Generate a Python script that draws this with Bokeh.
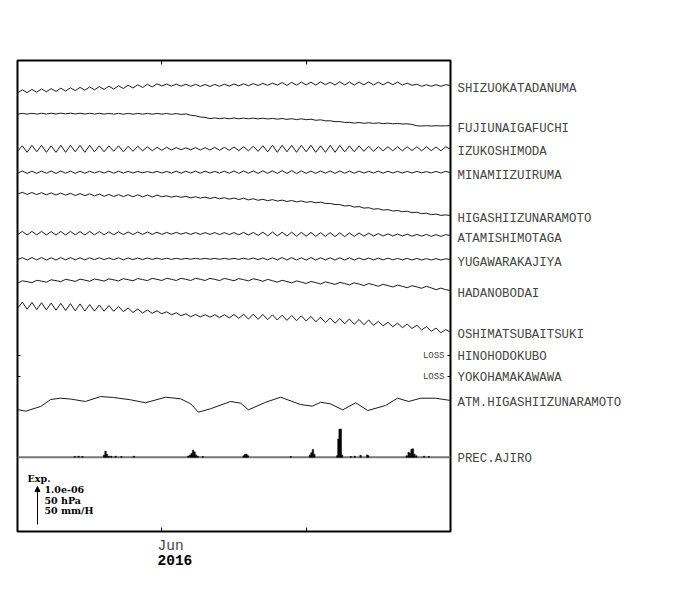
from bokeh.plotting import figure
from bokeh.models import (Range1d, FixedTicker, LinearAxis, Label, Arrow, NormalHead)
from bokeh.embed import file_html
from bokeh.resources import INLINE
from bokeh.core.properties import value

# ---------------- data ----------------
# x: days from the start of the window (tick 30 = 1 Jun 2016, tick 60 = 1 Jul)
DAYS = list(range(91))
TICKS = [30, 60]
TICK_LABEL = "Jun"
YEAR_LABEL = "2016"

# strain deviations, in plot units (38 units = 1.0e-06 strain)
SHIZUOKATADANUMA = [
    -1.5, 1.7, -1.1, 2.1, -0.7, 2.5, -0.3, 2.9, 0.1, 3.3,
    0.5, 3.7, 0.9, 4.1, 1.3, 4.5, 1.7, 4.9, 2.1, 5.3,
    2.5, 5.75, 3.0, 6.25, 3.5, 6.75, 4.0, 7.25, 4.5, 7.75,
    5.5, 7.45, 5.4, 7.35, 5.3, 7.25, 5.2, 7.15, 5.1, 7.05,
    5.0, 7.1, 5.2, 7.3, 5.4, 7.5, 5.6, 7.7, 5.8, 7.9,
    6.0, 8.1, 6.2, 8.3, 6.4, 9.0, 6.1, 9.2, 6.3, 9.4,
    6.6, 9.3, 6.4, 9.6, 6.8, 9.2, 6.5, 9.7, 6.6, 9.4,
    6.4, 9.5, 6.7, 9.6, 6.5, 9.3, 6.6, 9.5, 6.8, 9.4,
    6.5, 8.3, 6.2, 7.3, 5.2, 6.8, 5.2, 6.8, 5.2, 6.8,
    6.0]
FUJIUNAIGAFUCHI = [
    -0.4, 0.43, -0.34, 0.49, -0.28, 0.55, -0.22, 0.61, -0.16, 0.67,
    -0.1, 0.67, -0.16, 0.61, -0.22, 0.55, -0.28, 0.49, -0.34, 0.43,
    -0.4, 0.4, -0.4, 0.4, -0.4, 0.4, -0.4, 0.4, -0.4, 0.4,
    -0.4, 0.34, -0.52, 0.22, -0.64, -0.1, -1.5, -2.0, -3.2, -3.6,
    -4.8, -4.1, -4.9, -4.2, -5.0, -4.2, -5.0, -4.3, -5.0, -4.3,
    -5.1, -4.4, -5.2, -4.6, -5.4, -4.7, -5.6, -4.9, -5.8, -5.0,
    -5.9, -5.4, -6.5, -6.0, -7.0, -7.0, -7.8, -7.8, -8.6, -8.6,
    -9.3, -8.7, -9.5, -8.9, -9.6, -9.1, -9.8, -9.3, -10.0, -9.6,
    -10.2, -10.0, -10.6, -12.0, -12.2, -11.9, -12.2, -11.9, -12.1, -12.0,
    -12.0]
IZUKOSHIMODA = [
    -2.5, 3.0, -3.5, 3.5, -3.0, 3.5, -3.5, 3.0, -3.5, 3.5,
    -3.5, 3.5, -3.0, 3.5, -3.5, 3.5, -3.0, 3.0, -3.0, 3.0,
    -2.5, 3.0, -3.0, 2.5, -2.5, 2.5, -2.0, 2.0, -2.0, 1.5,
    -1.5, 1.5, -1.2, 1.2, -1.0, 1.0, -1.0, 1.2, -1.2, 1.2,
    -1.2, 1.5, -1.5, 1.5, -1.5, 1.8, -1.8, 2.0, -2.0, 2.5,
    -2.5, 3.0, -3.0, 3.5, -3.5, 3.5, -3.0, 3.5, -3.5, 3.5,
    -3.0, 3.5, -3.5, 3.0, -3.5, 3.5, -3.5, 3.5, -3.0, 3.0,
    -3.0, 3.0, -2.5, 2.5, -2.5, 2.0, -2.0, 2.0, -2.0, 2.0,
    -2.0, 2.0, -1.8, 2.0, -2.0, 2.0, -1.8, 1.8, -2.0, 2.0,
    -0.5]
MINAMIIZUIRUMA = [
    -1.0, 1.2, -1.2, 1.0, -1.2, 1.2, -1.0, 1.2, -1.2, 1.2,
    -1.0, 1.2, -1.2, 1.0, -1.0, 1.0, -0.8, 0.8, -0.8, 1.0,
    -1.0, 1.0, -0.8, 0.8, -0.8, 0.8, -0.6, 0.6, -0.6, 0.8,
    -0.8, 0.8, -0.8, 1.0, -1.0, 1.0, -0.8, 1.0, -1.0, 1.0,
    -0.8, 0.8, -0.8, 1.0, -1.0, 1.2, -1.2, 1.2, -1.0, 1.2,
    -1.2, 1.4, -1.2, 1.4, -1.2, 1.6, -1.2, 1.6, -1.4, 1.4,
    -1.2, 1.2, -1.2, 1.2, -1.0, 1.2, -1.2, 1.2, -1.0, 1.0,
    -1.0, 1.0, -0.8, 0.8, -0.8, 1.0, -1.0, 1.0, -0.8, 0.8,
    -0.8, 0.8, -0.8, 0.8, -0.6, 0.6, -0.8, 0.8, -0.8, 0.8,
    -0.4]
HIGASHIIZUNARAMOTO = [
    -1.0, 0.9, -1.2, 0.7, -1.4, 0.5, -1.6, 0.3, -1.8, 0.1,
    -2.0, -0.1, -2.3, -0.4, -2.5, -0.6, -2.8, -0.9, -3.1, -1.2,
    -3.3, -1.4, -3.4, -1.5, -3.6, -1.6, -3.7, -1.8, -3.8, -1.9,
    -3.6, -2.6, -3.9, -2.9, -4.1, -3.2, -4.6, -3.6, -4.9, -3.9,
    -5.3, -4.1, -5.6, -4.5, -6.0, -4.8, -6.3, -5.1, -6.7, -5.5,
    -7.1, -6.1, -7.5, -6.4, -7.9, -6.9, -8.3, -7.3, -8.7, -7.7,
    -9.1, -8.4, -9.6, -9.0, -10.2, -10.3, -11.3, -11.4, -12.8, -12.3,
    -13.9, -13.4, -14.9, -14.5, -16.0, -15.5, -16.9, -16.4, -17.8, -17.3,
    -18.5, -18.0, -19.5, -19.0, -20.5, -20.0, -21.4, -20.9, -22.2, -21.7,
    -22.3]
ATAMISHIMOTAGA = [
    -1.5, 1.8, -1.8, 1.8, -1.6, 1.8, -1.8, 1.6, -1.8, 1.8,
    -1.8, 1.8, -1.6, 1.6, -1.8, 1.8, -1.6, 1.6, -1.6, 1.4,
    -1.6, 1.4, -1.4, 1.2, -1.4, 1.2, -1.2, 1.2, -1.2, 1.0,
    -1.2, 0.8, -1.0, 0.8, -1.0, 0.6, -1.2, 0.6, -1.2, 0.6,
    -1.2, 0.6, -1.4, 0.6, -1.4, 0.6, -1.6, 0.8, -1.8, 0.8,
    -2.2, 1.0, -2.6, 1.2, -2.8, 1.0, -2.8, 1.0, -3.0, 0.8,
    -3.0, 0.8, -3.2, 0.6, -3.2, 0.6, -3.4, 0.4, -3.4, 0.2,
    -3.2, 0.2, -3.0, 0.0, -2.8, -0.4, -2.8, -0.6, -2.8, -0.8,
    -2.8, -1.0, -3.0, -1.2, -3.0, -1.2, -3.2, -1.4, -3.2, -1.4,
    -2.3]
YUGAWARAKAJIYA = [
    -0.8, 1.2, -1.2, 1.2, -1.0, 1.2, -1.2, 1.0, -1.2, 1.2,
    -1.0, 1.2, -1.0, 1.0, -1.0, 1.0, -0.8, 1.0, -0.8, 0.8,
    -0.8, 1.0, -1.0, 0.8, -0.8, 0.8, -0.8, 0.8, -0.6, 0.6,
    -0.6, 0.6, -0.6, 0.5, -0.5, 0.4, -0.4, 0.4, -0.4, 0.4,
    -0.4, 0.4, -0.5, 0.5, -0.5, 0.5, -0.6, 0.6, -0.6, 0.8,
    -0.8, 0.8, -1.0, 1.0, -1.0, 1.2, -1.2, 1.2, -1.2, 1.0,
    -1.2, 1.2, -1.2, 1.0, -1.0, 1.0, -1.2, 1.0, -1.2, 1.0,
    -1.2, 0.8, -1.0, 0.8, -1.0, 0.6, -1.0, 0.6, -1.0, 0.4,
    -1.0, 0.4, -1.2, 0.4, -1.2, 0.2, -1.2, 0.2, -1.2, 0.0,
    -0.7]
HADANOBODAI = [
    -1.0, 1.37, 0.54, -0.49, 1.88, 1.05, 0.02, 2.39, 1.56, 0.53,
    2.9, 1.95, 0.8, 3.05, 2.1, 0.95, 3.2, 2.25, 1.1, 3.35,
    2.4, 1.25, 3.5, 2.55, 1.4, 3.65, 2.7, 1.55, 3.8, 2.85,
    1.7, 3.9, 2.9, 1.7, 3.9, 2.9, 1.7, 3.9, 2.9, 1.7,
    3.9, 2.85, 1.6, 3.75, 2.7, 1.45, 3.6, 2.55, 1.3, 3.45,
    2.4, 0.9, 2.8, 1.5, 0.0, 1.9, 0.7, -0.7, 1.3, 0.1,
    -1.3, 0.75, -0.4, -1.75, 0.3, -0.85, -2.2, -0.15, -1.3, -2.65,
    -0.6, -1.85, -3.3, -1.35, -2.6, -4.05, -2.1, -3.35, -4.8, -2.85,
    -4.1, -5.5, -3.5, -4.7, -6.1, -4.1, -5.7, -7.5, -5.9, -7.5,
    -8.3]
OSHIMATSUBAITSUKI = [
    -3.0, 3.35, -3.8, 3.05, -4.1, 2.75, -4.4, 2.45, -4.7, 2.15,
    -5.0, 1.85, -5.3, 1.55, -5.6, 0.95, -5.6, 0.45, -5.7, -0.05,
    -5.8, -1.0, -6.2, -2.5, -7.0, -3.53, -7.47, -4.5, -7.83, -5.37,
    -8.2, -6.3, -9.2, -7.3, -10.2, -8.3, -11.2, -8.93, -11.45, -9.18,
    -11.7, -9.26, -12.03, -9.19, -12.35, -9.01, -12.88, -8.74, -13.5, -8.67,
    -13.83, -9.0, -14.17, -9.33, -14.5, -9.67, -14.83, -10.0, -15.17, -10.33,
    -15.5, -10.9, -16.3, -11.7, -17.1, -12.5, -17.75, -13.0, -18.25, -13.5,
    -18.75, -14.0, -19.25, -14.5, -19.94, -15.89, -20.33, -16.78, -21.22, -17.67,
    -22.11, -18.56, -23.0, -19.71, -24.43, -21.14, -25.85, -22.56, -27.28, -23.99,
    -26.7]

STRAIN_NAMES = ["SHIZUOKATADANUMA", "FUJIUNAIGAFUCHI", "IZUKOSHIMODA", "MINAMIIZUIRUMA",
                "HIGASHIIZUNARAMOTO", "ATAMISHIMOTAGA", "YUGAWARAKAJIYA", "HADANOBODAI",
                "OSHIMATSUBAITSUKI"]
STRAIN_SERIES = [SHIZUOKATADANUMA, FUJIUNAIGAFUCHI, IZUKOSHIMODA, MINAMIIZUIRUMA,
                 HIGASHIIZUNARAMOTO, ATAMISHIMOTAGA, YUGAWARAKAJIYA, HADANOBODAI,
                 OSHIMATSUBAITSUKI]
LOSS_NAMES = ["HINOHODOKUBO", "YOKOHAMAKAWAWA"]

# atmospheric pressure (hPa)
ATM_NAME = "ATM.HIGASHIIZUNARAMOTO"
ATM_DAY = [0, 1.7, 4.8, 6.9, 8.9, 11, 14.1, 17.3, 20, 23.5,
           26.6, 30.8, 33.9, 36, 37.6, 40.1, 44.3, 46.4, 48, 51.6,
           54.7, 58.8, 61.3, 63, 65, 67.6, 70.3, 72.8, 76.5, 79,
           81.3, 83.8, 86.9, 90]
ATM_HPA = [999.7, 997.5, 1003.7, 1012.9, 1014.6, 1013.5, 1010.3, 1016.8, 1015.5, 1012.5,
           1008.6, 1015.9, 1013.8, 1007.2, 996.2, 1000.7, 1010.3, 1008.0, 999.3, 1009.3,
           1015.9, 1006.3, 1004.1, 1009.3, 1007.2, 999.3, 1008.6, 998.4, 1005.0, 1014.6,
           1010.3, 1014.6, 1014.6, 1011.6]

# precipitation (mm/H)
PREC_NAME = "PREC.AJIRO"
PREC_DAY = [11.9, 12.7, 13.5, 18.0, 18.3, 18.6, 19.0, 19.5, 20.4, 21.6, 24.2,
            35.5, 35.9, 36.2, 36.5, 36.8, 37.1, 37.5, 38.5,
            47.0, 47.3, 47.6, 47.9, 56.8, 60.8, 61.1, 61.4, 61.7,
            66.45, 66.7, 66.95, 67.2, 67.45, 69.3, 70.1, 71.3, 72.7, 72.9,
            80.9, 81.3, 81.6, 81.9, 82.2, 82.5, 82.9, 84.5, 85.5]
PREC_MM = [1, 1.3, 1, 3, 8, 4, 1.3, 1.3, 1.3, 1, 1.3,
           1.5, 3, 5, 9, 7, 3, 1.3, 1,
           2, 4, 4, 2, 1, 3, 6, 10, 4,
           2, 24, 37, 37, 3, 1, 1.3, 2.5, 3, 2,
           2, 6.5, 5, 10.5, 11, 4, 2, 1.3, 1]

SCALE_TEXT = ["1.0e-06", "50 hPa", "50 mm/H"]

# ---------------- layout (plot units, 1 unit ~ 1 px) ----------------
BAR = 38.0                      # length of 1.0e-06 strain / 50 hPa / 50 mm/H
STRAIN_OFFSETS = [440, 417.7, 382.7, 359.3, 338.3, 298.3, 272.7, 249.3, 226]
LOSS_ROWS = [176, 155]
ATM_BASE = 126.0
ATM_REF = 1005.0
PREC_BASE = 74.3
NBSP = "\u00a0"

p = figure(width=648, height=583, x_range=Range1d(0, 90), y_range=Range1d(0, 471),
           output_backend="svg", toolbar_location=None,
           x_axis_type=None, y_axis_type=None,
           min_border_left=17, min_border_right=198, min_border_top=60, min_border_bottom=52)
p.outline_line_color = "black"
p.outline_line_width = 2
p.background_fill_color = "white"
p.border_fill_color = "white"

label_pos, label_txt = [], []
for name, series, off in zip(STRAIN_NAMES, STRAIN_SERIES, STRAIN_OFFSETS):
    ys = [v + off for v in series]
    p.line(DAYS, ys, line_color="#1a1a1a", line_width=1, line_join="round")
    label_pos.append(round(ys[-1] - 3, 1)); label_txt.append(name)

for name, row in zip(LOSS_NAMES, LOSS_ROWS):
    label_pos.append(round(row - 1.5, 1)); label_txt.append(name)
p.text(x=[90] * len(LOSS_ROWS), y=LOSS_ROWS, text=["LOSS"] * len(LOSS_ROWS),
       x_offset=-6, text_align="right", text_baseline="middle",
       text_font=value("Liberation Mono"), text_font_size="9px", text_color="#444")
# short inward ticks at the edges for the LOSS rows (half of each dash is clipped)
p.scatter(x=[0, 0, 90, 90], y=LOSS_ROWS + LOSS_ROWS, marker="dash", size=6,
          line_color="black", line_width=1)

atm_y = [ATM_BASE + (h - ATM_REF) * BAR / 50.0 for h in ATM_HPA]
p.line(ATM_DAY, atm_y, line_color="#1a1a1a", line_width=1, line_join="round")
label_pos.append(round(atm_y[-1] - 2, 1)); label_txt.append(ATM_NAME)

p.line([0, 90], [PREC_BASE, PREC_BASE], line_color="#777777", line_width=2)
p.vbar(x=PREC_DAY, bottom=PREC_BASE, top=[PREC_BASE + m * BAR / 50.0 for m in PREC_MM],
       width=0.3, fill_color="black", line_color="black", line_width=0.5)
label_pos.append(round(PREC_BASE - 2, 1)); label_txt.append(PREC_NAME)

# station names on a right-hand axis
name_axis = LinearAxis(ticker=FixedTicker(ticks=label_pos), axis_line_color=None,
                       major_tick_line_color=None, minor_tick_line_color=None,
                       major_tick_in=0, major_tick_out=0, major_label_standoff=7,
                       major_label_overrides=dict(zip(label_pos, label_txt)),
                       major_label_text_font="Liberation Mono",
                       major_label_text_font_size="12.4px",
                       major_label_text_color="#444444")
p.add_layout(name_axis, "right")

# time axis: ticks top and bottom, month and year below
top_axis = LinearAxis(ticker=FixedTicker(ticks=TICKS), axis_line_color=None,
                      major_tick_in=4, major_tick_out=0, minor_tick_line_color=None,
                      major_label_overrides={t: "" for t in TICKS}, major_label_standoff=0,
                      major_tick_line_color="black")
p.add_layout(top_axis, "above")
month_axis = LinearAxis(ticker=FixedTicker(ticks=TICKS), axis_line_color=None,
                        major_tick_in=4, major_tick_out=0, minor_tick_line_color=None,
                        major_tick_line_color="black", major_label_standoff=6,
                        major_label_overrides={TICKS[0]: NBSP * 2 + TICK_LABEL, TICKS[1]: ""},
                        major_label_text_font="Liberation Mono",
                        major_label_text_font_size="14.5px",
                        major_label_text_color="#444444")
p.add_layout(month_axis, "below")
year_axis = LinearAxis(ticker=FixedTicker(ticks=[TICKS[0]]), axis_line_color=None,
                       major_tick_in=0, major_tick_out=0, minor_tick_line_color=None,
                       major_tick_line_color=None, major_label_standoff=-4,
                       major_label_overrides={TICKS[0]: NBSP * 3 + YEAR_LABEL},
                       major_label_text_font="Liberation Mono",
                       major_label_text_font_style="bold",
                       major_label_text_font_size="14.5px",
                       major_label_text_color="black")
p.add_layout(year_axis, "below")

# scale legend
p.add_layout(Label(x=2.1, y=53, text="Exp.", text_font="DejaVu Serif",
                   text_font_style="bold", text_font_size="9.5px", text_baseline="middle",
                   text_color="black"))
for i, t in enumerate(SCALE_TEXT):
    p.add_layout(Label(x=5.6, y=42 - 10.5 * i, text=t, text_font="DejaVu Serif",
                       text_font_style="bold", text_font_size="9.5px",
                       text_baseline="middle", text_color="black"))
p.add_layout(Arrow(end=NormalHead(size=5, fill_color="black", line_color="black"),
                   x_start=4.16, y_start=7, x_end=4.16, y_end=7 + BAR,
                   line_color="black", line_width=1))

open("out.html", "w").write(file_html(p, INLINE))
